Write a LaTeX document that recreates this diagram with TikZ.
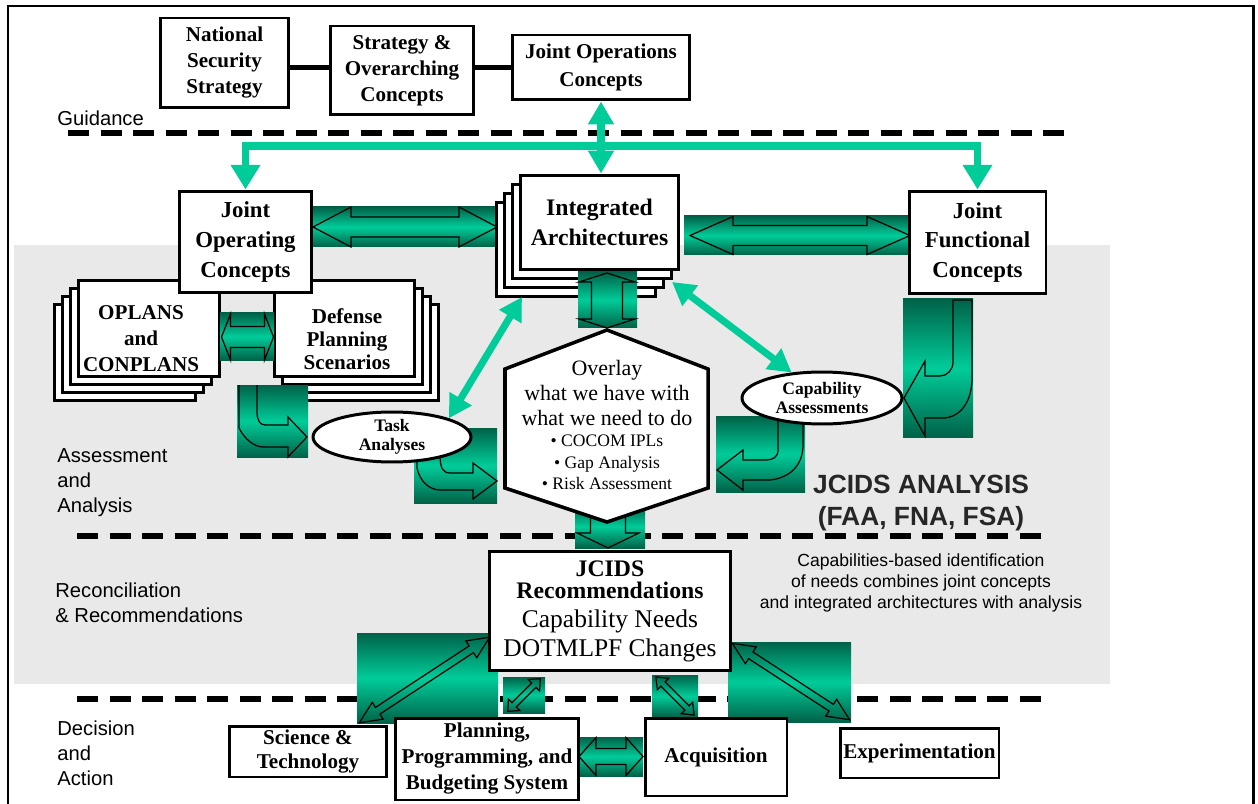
\documentclass[tikz,border=0pt]{standalone}
\usepackage{fontspec}
\setmainfont{Liberation Serif}
\setsansfont{Liberation Sans}
\usetikzlibrary{arrows.meta, shapes.geometric}

\definecolor{gbright}{RGB}{0,204,153}
\definecolor{gdark}{RGB}{0,98,72}
\definecolor{bggray}{RGB}{233,233,233}

% outline of a double arrow: centre x, centre y, angle, half length, head half width, shaft half width, head length
\newcommand{\dblarrow}[7]{%
  \begin{scope}[shift={(#1,#2)},rotate=#3]
    \draw[outline] (-#4,0) -- (-#4+#7,#5) -- (-#4+#7,#6) -- (#4-#7,#6) -- (#4-#7,#5) -- (#4,0)
      -- (#4-#7,-#5) -- (#4-#7,-#6) -- (-#4+#7,-#6) -- (-#4+#7,-#5) -- cycle;
  \end{scope}}

\begin{document}
\begin{tikzpicture}[x=0.02cm,y=-0.02cm]

\tikzstyle{box}=[draw,line width=1.7pt,fill=white,inner sep=0pt,align=center,font=\bfseries\fontsize{12}{14.8}\selectfont]
\tikzstyle{oval}=[ellipse,draw,line width=1.7pt,fill=white,inner sep=0pt,align=center,font=\bfseries\fontsize{10}{10.5}\selectfont]
\tikzstyle{divider}=[line width=3.5pt,dash pattern=on 12pt off 6.5pt]
\tikzstyle{side}=[anchor=west,align=left,inner sep=0pt,font=\sffamily\fontsize{11.5}{14.2}\selectfont]
\tikzstyle{flow}=[draw=gbright,line width=4.5pt,-{Triangle[width=16pt,length=14pt]}]
\tikzstyle{dflow}=[draw=gbright,line width=4pt,{Triangle[width=14pt,length=13pt]}-{Triangle[width=14pt,length=13pt]}]
\tikzstyle{gblock}=[top color=gdark,bottom color=gdark,middle color=gbright]
\tikzstyle{outline}=[draw=black,line width=0.7pt]

\useasboundingbox (0,0) rectangle (1258,804);
\fill[bggray] (14,245) rectangle (1110,684);
\draw[line width=1.7pt] (8,810) -- (8,6) -- (1253,6) -- (1253,810);

% levels
\draw[divider] (68,133) -- (1068,133);
\draw[divider] (77,536) -- (1045,536);
\draw[divider] (77,699) -- (1045,699);

\node[side] (guidance) at (57,118) {Guidance};
\node[side] (assess) at (57,483) {Assessment\\and\\Analysis};
\node[side] (recon) at (55,603) {Reconciliation\\\& Recommendations};
\node[side] (decide) at (57,753) {Decision\\and\\Action};

% guidance
\node[box] (nss) at (224.5,63) [minimum width=25.8mm,minimum height=18mm] {National\\Security\\Strategy};
\node[box] (soc) at (402,70.5) [minimum width=28.8mm,minimum height=17.8mm] {Strategy \&\\Overarching\\Concepts};
\node[box,font=\bfseries\fontsize{12}{16}\selectfont] (joc) at (601,67.5) [minimum width=35.6mm,minimum height=13mm] {Joint Operations\\Concepts};
\draw[line width=2.8pt] (nss.east |- joc.west) -- (soc.west |- joc.west);
\draw[line width=2.8pt] (soc.east |- joc.west) -- (joc.west);

% concepts and architectures
\shade[gblock] (312,207) rectangle (497,247);
\dblarrow{405}{227}{0}{92}{20}{10}{38}
\shade[gblock] (684,216) rectangle (911,255);
\dblarrow{800}{235.5}{0}{110}{19}{10}{43}

\foreach \k in {3,2,1}
  \node[box] (oplans\k) at (149-8*\k,328.5+8*\k) [minimum width=28.4mm,minimum height=19.4mm] {};
\node[box] (oplans) at (149,328.5) [minimum width=28.4mm,minimum height=19.4mm] {};
\node[font=\bfseries\fontsize{12}{14.8}\selectfont,align=center] (oplanstxt) at (141,339) {OPLANS\\and\\CONPLANS};
\foreach \k in {3,2,1}
  \node[box] (dps\k) at (344.5+8*\k,328.5+8*\k) [minimum width=28.2mm,minimum height=19.4mm] {};
\node[box] (dps) at (344.5,328.5) [minimum width=28.2mm,minimum height=19.4mm] {};
\node[font=\bfseries\fontsize{12}{13}\selectfont,align=center] (dpstxt) at (347,339) {Defense\\Planning\\Scenarios};

\node[box,font=\bfseries\fontsize{13}{17}\selectfont] (jopc) at (245.5,242) [minimum width=26.6mm,minimum height=20.4mm] {Joint\\Operating\\Concepts};
\foreach \k in {3,2,1}
  \node[box] (ia\k) at (599.5-7.7*\k,222.5+9*\k) [minimum width=31.8mm,minimum height=19mm] {};
\node[box,font=\bfseries\fontsize{13.5}{17}\selectfont] (ia) at (599.5,222.5) [minimum width=31.8mm,minimum height=19mm] {Integrated\\Architectures};
\node[box,font=\bfseries\fontsize{13}{17}\selectfont] (jfc) at (977.5,242.5) [minimum width=27.4mm,minimum height=20.6mm] {Joint\\Functional\\Concepts};

\coordinate (bus) at (601,146);
\draw[flow] (bus) -| (jopc.north);
\draw[flow] (bus) -| (jfc.north);
\draw[dflow] (joc.south) -- (joc.south |- ia.north);

% gradient arrows
\shade[gblock] (220,313) rectangle (274,360);
\dblarrow{247.5}{337}{0}{26}{23}{10.5}{9}
\shade[gblock] (237,385) rectangle (308,457);
\draw[outline] (239,385) -- (239,428) .. controls (245,440) and (255,447) .. (263,447) -- (288,447) -- (288,457)
  -- (307,437) -- (288,417) -- (288,425) -- (265,425) .. controls (260,425) and (257,420) .. (257,412) -- (257,385);
\shade[gblock] (414,428) rectangle (497,503);
\draw[outline] (417,450) -- (417,468) .. controls (420,482) and (430,490) .. (440,490) -- (473,490) -- (473,499)
  -- (497,481) -- (473,463) -- (473,473) -- (450,473) .. controls (443,473) and (440,468) .. (440,455);
\shade[gblock] (578,272) rectangle (637,328);
\dblarrow{607}{300.5}{90}{27.5}{28}{15.5}{9}
\shade[gblock] (575,505) rectangle (645,548);
\dblarrow{608}{522}{90}{26}{31}{17.5}{15}
\shade[gblock] (716,416) rectangle (805,492);
\draw[outline] (778,418) -- (778,450) .. controls (778,457) and (773,460) .. (766,460) -- (743,460) -- (743,450)
  -- (717,470) -- (743,490) -- (743,480) -- (770,480) .. controls (790,478) and (803,465) .. (803,445) -- (803,418);
\shade[gblock] (903,299) rectangle (973,437);
\draw[outline] (953,300) -- (953,362) .. controls (953,370) and (947,376) .. (940,376) -- (925,376) -- (925,361)
  -- (904,398) -- (925,436) -- (925,418) -- (945,418) .. controls (962,416) and (972,400) .. (972,378) -- (972,300) -- cycle;

\shade[gblock] (357,633) rectangle (498,723);
\dblarrow{424.5}{680}{33.3}{78}{10}{4}{22}
\shade[gblock] (503,677) rectangle (545,713);
\dblarrow{524}{695}{45}{23}{8}{3}{9}
\shade[gblock] (652,675) rectangle (698,717);
\dblarrow{675}{696}{-45}{27}{8}{3}{10}
\shade[gblock] (728,642) rectangle (851,722);
\dblarrow{791}{681.5}{-33.1}{70}{10}{4}{22}
\shade[gblock] (579,737) rectangle (643,776);
\dblarrow{611}{756.5}{0}{32}{19}{8}{17}

% analysis
\node[oval] (task) at (392,437) [minimum width=31.6mm,minimum height=10mm] {Task\\Analyses};
\node[oval] (cap) at (822,398) [minimum width=32mm,minimum height=10.4mm] {Capability\\Assessments};

\draw[line width=2pt,fill=white] (607,330) -- (708,369) -- (708,488) -- (607,522) -- (505,488) -- (505,369) -- cycle;
\node[align=center,inner sep=0pt,font=\fontsize{12.5}{14.2}\selectfont] (overlay) at (607,425)
  {Overlay\\what we have with\\what we need to do\\[-2pt]{\fontsize{10}{12}\selectfont\textbullet\ COCOM IPLs}\\[-2pt]{\fontsize{10}{12}\selectfont\textbullet\ Gap Analysis}\\[-2pt]{\fontsize{10}{12}\selectfont\textbullet\ Risk Assessment}};

\coordinate (iasw) at (522,297);
\coordinate (iase) at (672,282);
\draw[dflow] (task.north east) -- (iasw);
\draw[dflow] (iase) -- (cap.140);

\node[font=\sffamily\bfseries\fontsize{15}{18.2}\selectfont,align=center,text=black!85] (jcidsa) at (921,503) {JCIDS ANALYSIS\\(FAA, FNA, FSA)};
\node[font=\sffamily\fontsize{10}{12.2}\selectfont,align=center] (note) at (921,583) {Capabilities-based identification\\of needs combines joint concepts\\and integrated architectures with analysis};

% recommendations and action
\node[box,font=\fontsize{14.5}{16.5}\selectfont] (jcids) at (610,611) [minimum width=48.4mm,minimum height=24mm]
  {{\bfseries\fontsize{13.5}{15}\selectfont JCIDS}\\[-4pt]{\bfseries\fontsize{13.5}{15}\selectfont Recommendations}\\Capability Needs\\DOTMLPF Changes};

\node[box,font=\bfseries\fontsize{12}{14.2}\selectfont] (st) at (308,751.5) [minimum width=31.6mm,minimum height=10.2mm] {Science \&\\Technology};
\node[box] (ppbs) at (487,759) [minimum width=36.8mm,minimum height=16.4mm] {Planning,\\Programming, and\\Budgeting System};
\node[box] (acq) at (716,757) [minimum width=28.4mm,minimum height=15.6mm] {Acquisition};
\node[box] (exp) at (919.5,753) [minimum width=31.8mm,minimum height=10mm] {Experimentation};

\end{tikzpicture}
\end{document}
